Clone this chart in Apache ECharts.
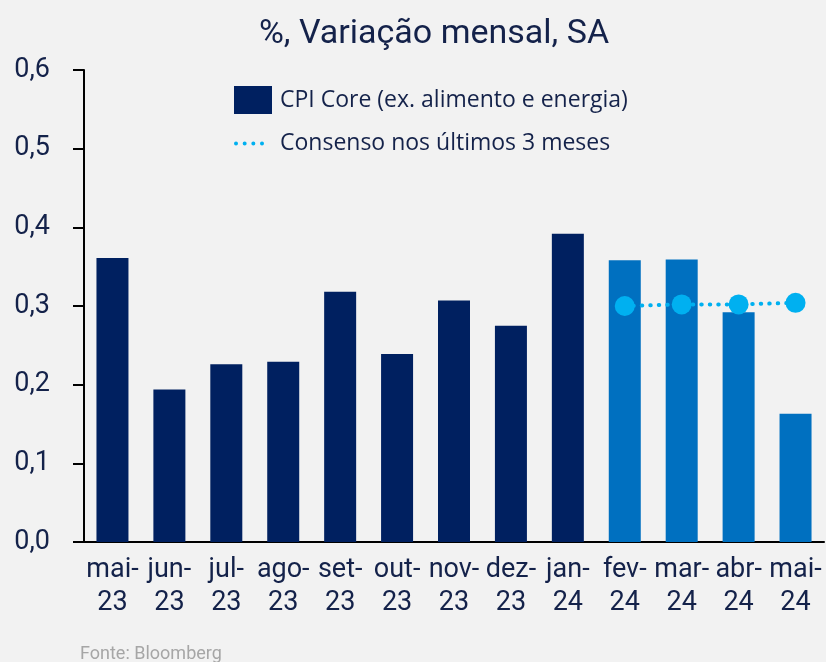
<!DOCTYPE html>
<html>
<head>
<meta charset="utf-8">
<script src="https://cdn.jsdelivr.net/npm/echarts@6/dist/echarts.min.js"></script>
<style>
  html, body { margin: 0; padding: 0; background: #f2f2f2; }
  #chart { width: 826px; height: 662px; }
</style>
</head>
<body>
<div id="chart"></div>
<script>
const categories = ['mai-23', 'jun-23', 'jul-23', 'ago-23', 'set-23', 'out-23', 'nov-23', 'dez-23', 'jan-24', 'fev-24', 'mar-24', 'abr-24', 'mai-24'];
const coreValues = [0.361, 0.194, 0.226, 0.229, 0.318, 0.239, 0.307, 0.275, 0.392, 0.358, 0.359, 0.292, 0.163];
const consensusValues = [null, null, null, null, null, null, null, null, null, 0.300, 0.302, 0.302, 0.304];
const yTicks = [0, 0.1, 0.2, 0.3, 0.4, 0.5, 0.6];

const navy = '#002060';
const blue = '#0070C0';
const cyan = '#00B0F0';
const textColor = '#14224A';
const axisFont = 'Roboto, "Liberation Sans", sans-serif';

const chart = echarts.init(document.getElementById('chart'));

const barData = coreValues.map((v, i) => ({
  value: v,
  itemStyle: { color: i >= 9 ? blue : navy }
}));

const option = {
  backgroundColor: '#f2f2f2',
  animation: false,
  title: {
    text: '%, Variação mensal, SA',
    left: 429,
    top: 12,
    textAlign: 'center',
    textStyle: { color: textColor, fontFamily: axisFont, fontWeight: 'normal', fontSize: 34 }
  },
  legend: [
    {
      data: [{ name: 'CPI Core (ex. alimento e energia)', icon: 'rect' }],
      left: 229, top: 81,
      itemWidth: 38, itemHeight: 28,
      textStyle: { color: textColor, fontFamily: 'Open Sans', fontSize: 23, padding: [0, 0, 0, 3] }
    },
    {
      data: [{
        name: 'Consenso nos últimos 3 meses',
        icon: 'path://M0,2a2,2 0 1,0 4,0a2,2 0 1,0 -4,0M8.67,2a2,2 0 1,0 4,0a2,2 0 1,0 -4,0M17.33,2a2,2 0 1,0 4,0a2,2 0 1,0 -4,0M26,2a2,2 0 1,0 4,0a2,2 0 1,0 -4,0'
      }],
      left: 229, top: 127,
      itemWidth: 30, itemHeight: 4,
      itemStyle: { color: cyan, borderWidth: 0 },
      lineStyle: { width: 0 },
      textStyle: { color: textColor, fontFamily: 'Open Sans', fontSize: 23, padding: [0, 0, 0, 11] }
    }
  ],
  grid: { left: 84, right: 2, top: 70, bottom: 120, containLabel: false },
  xAxis: {
    type: 'category',
    data: categories,
    axisLine: { lineStyle: { color: '#000', width: 2 } },
    axisTick: { show: false },
    axisLabel: {
      interval: 0,
      margin: 12,
      color: textColor,
      fontFamily: axisFont,
      fontSize: 27,
      lineHeight: 33,
      formatter: v => v.replace('-', '-\n')
    }
  },
  yAxis: {
    type: 'value',
    min: yTicks[0],
    max: yTicks[yTicks.length - 1],
    interval: 0.1,
    splitLine: { show: false },
    axisLine: { show: true, lineStyle: { color: '#000', width: 2 } },
    axisTick: { show: true, length: 11, lineStyle: { color: '#000', width: 2 } },
    axisLabel: {
      margin: 34,
      color: textColor,
      fontFamily: axisFont,
      fontSize: 27,
      formatter: v => v.toFixed(1).replace('.', ',')
    }
  },
  series: [
    {
      name: 'CPI Core (ex. alimento e energia)',
      type: 'bar',
      data: barData,
      barWidth: 32,
      itemStyle: { color: navy }
    },
    {
      name: 'Consenso nos últimos 3 meses',
      type: 'line',
      data: consensusValues,
      symbol: 'circle',
      symbolSize: 20,
      itemStyle: { color: cyan },
      lineStyle: { color: cyan, width: 4, type: [0.5, 8], cap: 'round' },
      z: 3
    }
  ],
  graphic: [
    {
      type: 'text',
      left: 80,
      top: 645,
      style: { text: 'Fonte: Bloomberg', fill: '#A6A6A6', font: '18px Roboto, "Liberation Sans", sans-serif' }
    }
  ]
};

chart.setOption(option);
window.addEventListener('resize', () => chart.resize());
</script>
</body>
</html>
